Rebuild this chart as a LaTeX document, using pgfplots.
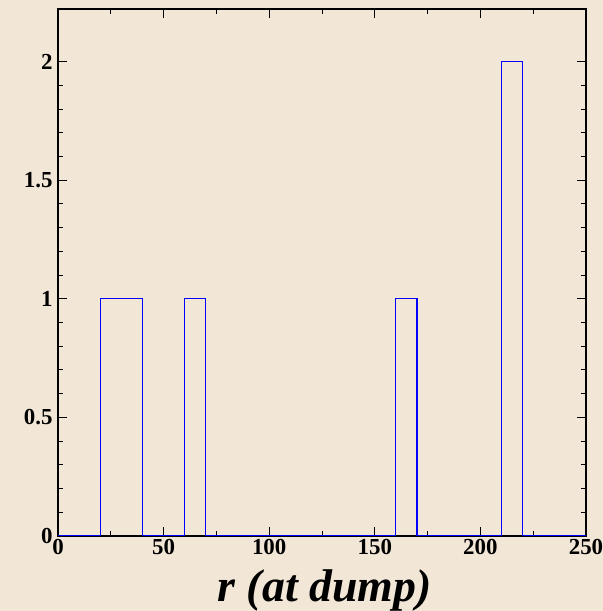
\documentclass[border=0pt]{standalone}
\usepackage{pgfplots}
\pgfplotsset{compat=1.18}
\usepackage{fontspec}
\setmainfont{Liberation Serif}
\definecolor{bgbeige}{RGB}{242,230,214}
\begin{document}
\begin{tikzpicture}
\useasboundingbox (0,0) rectangle (603bp,611bp);
\fill[bgbeige] (0,0) rectangle (603bp,611bp);
\begin{axis}[
  at={(58bp,75bp)}, anchor=south west,
  scale only axis, width=528bp, height=527bp,
  xmin=0, xmax=250, ymin=0, ymax=2.222,
  xtick={0,50,100,150,200,250},
  minor x tick num=1,
  ytick={0,0.5,1,1.5,2},
  minor y tick num=4,
  tick align=inside,
  major tick length=9bp, minor tick length=5bp,
  xtick pos=both, ytick pos=both,
  axis line style={line width=1.3bp},
  every tick/.style={black, line width=1bp},
  tick label style={font=\fontsize{23}{26}\selectfont\bfseries},
  /pgf/number format/assume math mode=true,
  yticklabel style={/pgf/number format/fixed, anchor=east, xshift=-2bp},
  xticklabel style={anchor=north, yshift=0bp},
  xlabel={\itshape r (at dump)},
  xlabel style={font=\fontsize{46}{50}\selectfont\bfseries, at={(axis description cs:0.505,0)}, anchor=base, inner sep=0pt, yshift=-65bp},
]
\addplot[color={rgb,255:red,0;green,0;blue,255}, line width=1.1bp, const plot mark left] coordinates {
  (0,0) (10,0) (20,1) (30,1) (40,0) (50,0) (60,1) (70,0) (80,0) (90,0) (100,0)
  (110,0) (120,0) (130,0) (140,0) (150,0) (160,1) (170,0) (180,0) (190,0)
  (200,0) (210,2) (220,0) (230,0) (240,0) (250,0)
};
\end{axis}
\end{tikzpicture}
\end{document}
